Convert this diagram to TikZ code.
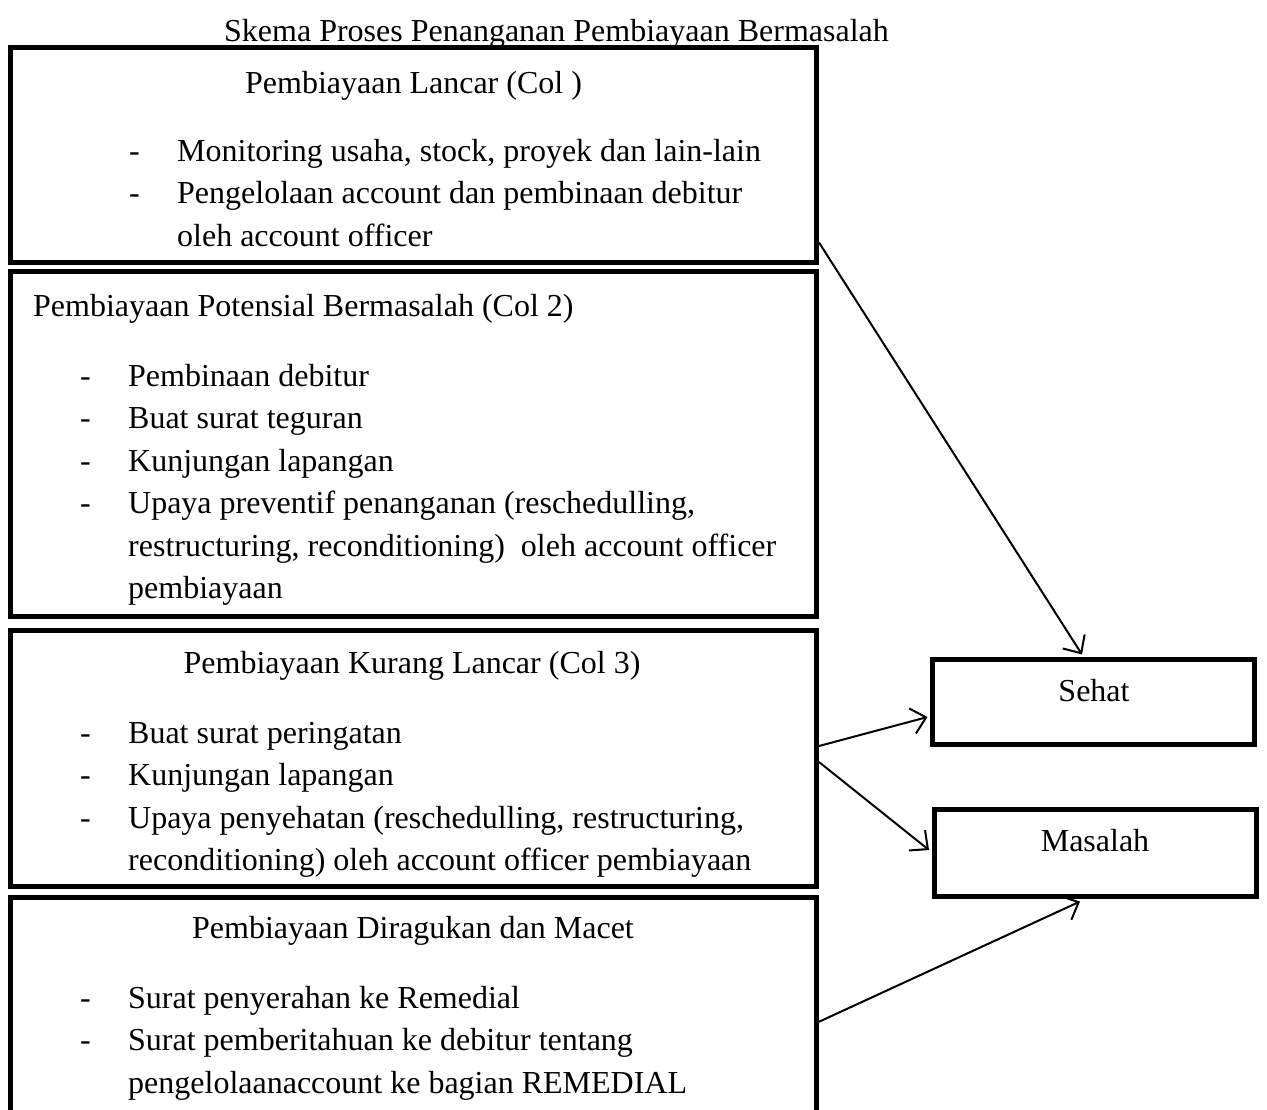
\documentclass[tikz,border=0pt]{standalone}
\usepackage{fontspec}
\setmainfont{Liberation Serif}
\usetikzlibrary{arrows.meta,positioning}

\begin{document}
\begin{tikzpicture}[x=1pt, y=-1pt, font=\fontsize{32}{42.5}\selectfont]
    \tikzstyle{tier}=[rectangle, draw=black, line width=5pt, minimum width=806pt, inner sep=0pt]
    \tikzstyle{result}=[rectangle, draw=black, line width=5pt, minimum width=322pt, inner sep=0pt]
    \tikzstyle{txt}=[inner sep=0pt, anchor=base]
    \tikzstyle{items}=[inner sep=0pt, anchor=base west]
    \tikzstyle{connect}=[-{Straight Barb[length=14pt, width=26pt]}, line width=2pt]

      \clip (0,0) rectangle (1267,1109);

      \node[txt] (title) at (556.5,41) {Skema Proses Penanganan Pembiayaan Bermasalah};

      % kolektibilitas
      \node[tier, minimum height=214.5pt] (lancar) at (413.5,154.75) {};
      \node[tier, minimum height=345pt] (potensial) at (413.5,444) {};
      \node[tier, minimum height=256pt] (kurang) at (413.5,758.5) {};
      \node[tier, minimum height=232.5pt] (macet) at (413.5,1013.75) {};

      \node[txt] (lancarhead) at (413.5,93) {Pembiayaan Lancar (Col )};
      \node[items] (lancaritems) at (129,161) {\begin{tabular}[t]{@{}p{48pt}@{}l@{}}
        - & Monitoring usaha, stock, proyek dan lain-lain\\
        - & Pengelolaan account dan pembinaan debitur\\
          & oleh account officer
      \end{tabular}};

      \node[items] (potensialhead) at (33,316) {Pembiayaan Potensial Bermasalah (Col 2)};
      \node[items] (potensialitems) at (80,386) {\begin{tabular}[t]{@{}p{48pt}@{}l@{}}
        - & Pembinaan debitur\\
        - & Buat surat teguran\\
        - & Kunjungan lapangan\\
        - & Upaya preventif penanganan (reschedulling,\\
          & restructuring, reconditioning)\ \ oleh account officer\\
          & pembiayaan
      \end{tabular}};

      \node[txt] (kuranghead) at (412,673) {Pembiayaan Kurang Lancar (Col 3)};
      \node[items] (kurangitems) at (80,743) {\begin{tabular}[t]{@{}p{48pt}@{}l@{}}
        - & Buat surat peringatan\\
        - & Kunjungan lapangan\\
        - & Upaya penyehatan (reschedulling, restructuring,\\
          & reconditioning) oleh account officer pembiayaan
      \end{tabular}};

      \node[txt] (macethead) at (413,938) {Pembiayaan Diragukan dan Macet};
      \node[items] (macetitems) at (80,1008) {\begin{tabular}[t]{@{}p{48pt}@{}l@{}}
        - & Surat penyerahan ke Remedial\\
        - & Surat pemberitahuan ke debitur tentang\\
          & pengelolaanaccount ke bagian REMEDIAL
      \end{tabular}};

      % hasil
      \node[result, minimum height=85pt] (sehat) at (1093.5,702) {};
      \node[result, minimum height=87pt] (masalah) at (1095,853) {};
      \node[txt] (sehattxt) at (1094,701) {Sehat};
      \node[txt] (masalahtxt) at (1095,851) {Masalah};

      \path
        ([yshift=22pt]lancar.south east) edge [connect] ([xshift=-11.5pt, yshift=2.5pt]sehat.north)
        ([yshift=12.5pt]kurang.east) edge [connect] ([xshift=-2.5pt, yshift=-15pt]sehat.west)
        ([yshift=-3.5pt]kurang.east) edge [connect] ([xshift=-2.5pt, yshift=3pt]masalah.west)
        ([yshift=-8pt]macet.east) edge [connect] ([xshift=-15pt, yshift=-2.5pt]masalah.south);
    \end{tikzpicture}
\end{document}
